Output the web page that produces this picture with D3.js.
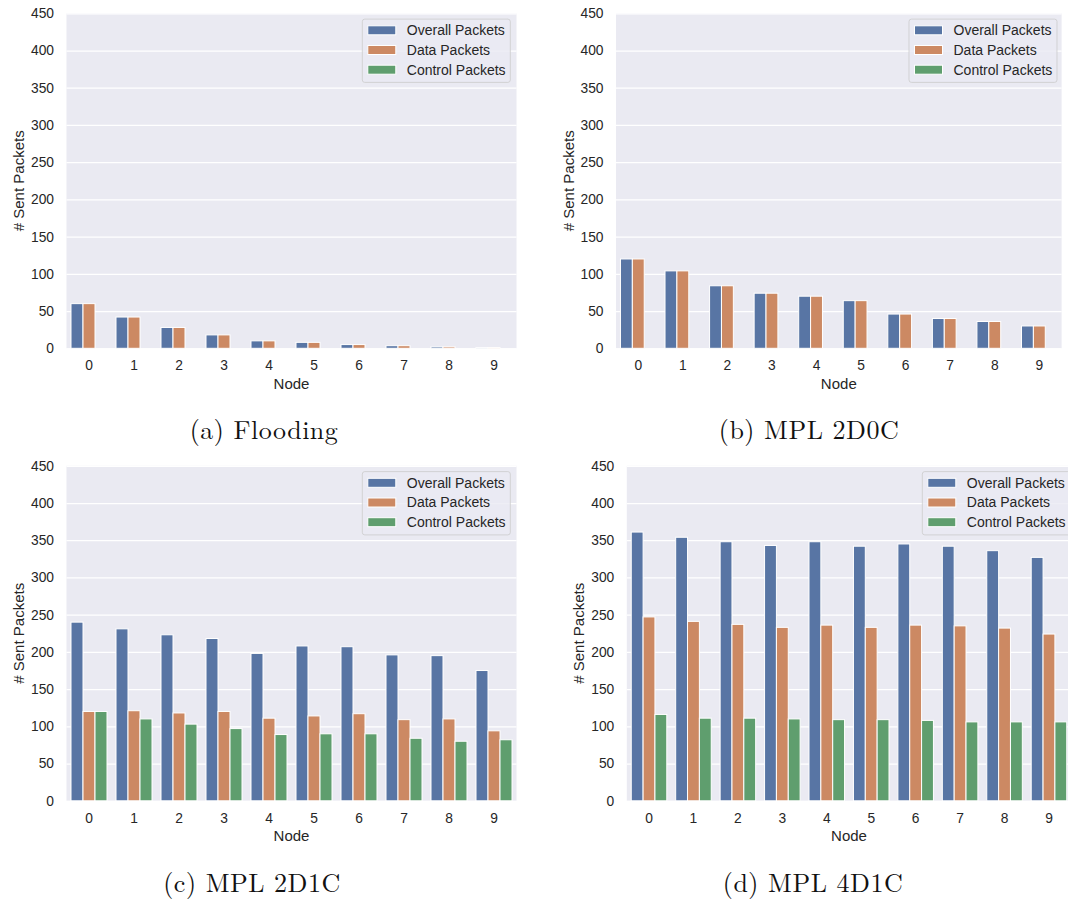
<!DOCTYPE html>
<html>
<head>
<meta charset="utf-8">
<script src="https://cdn.jsdelivr.net/npm/d3@7"></script>
<style>
  body { margin: 0; background: #ffffff; }
  svg { display: block; }
</style>
</head>
<body>
<svg id="fig" width="1068" height="902"></svg>
<script>
// data
const nodes = ["0", "1", "2", "3", "4", "5", "6", "7", "8", "9"];
const seriesNames = ["Overall Packets", "Data Packets", "Control Packets"];
const yTicks = [0, 50, 100, 150, 200, 250, 300, 350, 400, 450];

const floodingOverall = [60, 42, 28, 18, 10, 8, 5, 3.5, 2, 1];
const floodingData    = [60, 42, 28, 18, 10, 8, 5, 3.5, 2, 1];
const floodingControl = [0, 0, 0, 0, 0, 0, 0, 0, 0, 0];

const mpl2d0cOverall = [120, 104, 84, 74, 70, 64, 46, 40, 36, 30];
const mpl2d0cData    = [120, 104, 84, 74, 70, 64, 46, 40, 36, 30];
const mpl2d0cControl = [0, 0, 0, 0, 0, 0, 0, 0, 0, 0];

const mpl2d1cOverall = [240, 231, 223, 218, 198, 208, 207, 196, 195, 175];
const mpl2d1cData    = [120, 121, 118, 120, 111, 114, 117, 109, 110, 94];
const mpl2d1cControl = [120, 110, 103, 97, 89, 90, 90, 84, 80, 82];

const mpl4d1cOverall = [361, 354, 348, 343, 348, 342, 345, 342, 336, 327];
const mpl4d1cData    = [247, 241, 237, 233, 236, 233, 236, 235, 232, 224];
const mpl4d1cControl = [116, 111, 111, 110, 109, 109, 108, 106, 106, 106];

const captions = ["(a) Flooding", "(b) MPL 2D0C", "(c) MPL 2D1C", "(d) MPL 4D1C"];

// seaborn "deep" palette at saturation .75
const colors = ["#5875a4", "#cc8963", "#5f9e6e"];

const panels = [
  { series: [floodingOverall, floodingData, floodingControl], caption: captions[0],
    x0: 66.5, x1: 516.5, y0: 13.3, y1: 348.3, legendX: 362.3, capX: 264, capY: 439 },
  { series: [mpl2d0cOverall, mpl2d0cData, mpl2d0cControl], caption: captions[1],
    x0: 616, x1: 1061.6, y0: 13.3, y1: 348.3, legendX: 909, capX: 809, capY: 439 },
  { series: [mpl2d1cOverall, mpl2d1cData, mpl2d1cControl], caption: captions[2],
    x0: 66.5, x1: 516.5, y0: 465.8, y1: 800.8, legendX: 362.3, capX: 252, capY: 892 },
  { series: [mpl4d1cOverall, mpl4d1cData, mpl4d1cControl], caption: captions[3],
    x0: 626.8, x1: 1071.2, y0: 465.8, y1: 800.8, legendX: 922.3, capX: 813, capY: 892 }
];

const svg = d3.select("#fig");
const sans = "'Liberation Sans', Arial, sans-serif";
const textColor = "#262626";

panels.forEach(function (p) {
  const g = svg.append("g");

  const x = d3.scaleBand().domain(nodes).range([p.x0, p.x1]).paddingInner(0).paddingOuter(0);
  const xHue = d3.scaleBand().domain(seriesNames)
    .range([0, x.bandwidth() * 0.8]);
  const y = d3.scaleLinear().domain([0, 450]).range([p.y1, p.y0]);

  // background
  g.append("rect")
    .attr("x", p.x0).attr("y", p.y0)
    .attr("width", p.x1 - p.x0).attr("height", p.y1 - p.y0)
    .attr("fill", "#eaeaf2");

  // y axis (gridlines + labels)
  const yAxis = d3.axisLeft(y).tickValues(yTicks).tickSize(-(p.x1 - p.x0)).tickPadding(12.5);
  const ya = g.append("g").attr("transform", "translate(" + p.x0 + ",0)").call(yAxis);
  ya.select(".domain").remove();
  ya.selectAll(".tick line").attr("stroke", "#ffffff").attr("stroke-width", 1.25);
  ya.selectAll(".tick text")
    .attr("font-family", sans).attr("font-size", "13.8px").attr("fill", textColor);

  // x axis
  const xAxis = d3.axisBottom(x).tickSize(0).tickPadding(12);
  const xa = g.append("g").attr("transform", "translate(0," + p.y1 + ")").call(xAxis);
  xa.select(".domain").remove();
  xa.selectAll(".tick text")
    .attr("font-family", sans).attr("font-size", "13.8px").attr("fill", textColor);

  // bars
  seriesNames.forEach(function (name, si) {
    g.append("g").selectAll("rect")
      .data(p.series[si])
      .join("rect")
      .attr("x", function (d, i) { return x(nodes[i]) + x.bandwidth() * 0.1 + xHue(name); })
      .attr("y", function (d) { return y(d); })
      .attr("width", xHue.bandwidth())
      .attr("height", function (d) { return y(0) - y(d); })
      .attr("fill", colors[si])
      .attr("stroke", "#ffffff")
      .attr("stroke-width", 1);
  });

  // axis titles
  g.append("text")
    .attr("x", (p.x0 + p.x1) / 2).attr("y", p.y1 + 35)
    .attr("text-anchor", "middle").attr("dominant-baseline", "central")
    .attr("font-family", sans).attr("font-size", "15px").attr("fill", textColor)
    .text("Node");
  g.append("text")
    .attr("transform", "translate(" + (p.x0 - 48) + "," + ((p.y0 + p.y1) / 2) + ") rotate(-90)")
    .attr("text-anchor", "middle").attr("dominant-baseline", "central")
    .attr("font-family", sans).attr("font-size", "15px").attr("fill", textColor)
    .text("# Sent Packets");

  // legend
  const lg = g.append("g").attr("transform", "translate(" + p.legendX + "," + (p.y0 + 5.8) + ")");
  lg.append("rect")
    .attr("x", 0).attr("y", 0).attr("width", 148).attr("height", 63.3)
    .attr("rx", 2.5)
    .attr("fill", "#eaeaf2").attr("fill-opacity", 0.8)
    .attr("stroke", "#cccccc").attr("stroke-opacity", 0.8).attr("stroke-width", 1);
  seriesNames.forEach(function (name, si) {
    const cy = 11.2 + si * 19.7;
    lg.append("rect")
      .attr("x", 5.5).attr("y", cy - 4.5).attr("width", 28).attr("height", 9)
      .attr("fill", colors[si]).attr("stroke", "#ffffff").attr("stroke-width", 1);
    lg.append("text")
      .attr("x", 44.5).attr("y", cy)
      .attr("dominant-baseline", "central")
      .attr("font-family", sans).attr("font-size", "14px").attr("fill", textColor)
      .text(name);
  });

  // subfigure caption
  svg.append("text")
    .attr("x", p.capX).attr("y", p.capY)
    .attr("text-anchor", "middle")
    .attr("font-family", "'Latin Modern Roman', 'CMU Serif', 'Liberation Serif', serif")
    .attr("font-size", "26px").attr("letter-spacing", "0.5px").attr("fill", "#111111")
    .text(p.caption);
});
</script>
</body>
</html>
